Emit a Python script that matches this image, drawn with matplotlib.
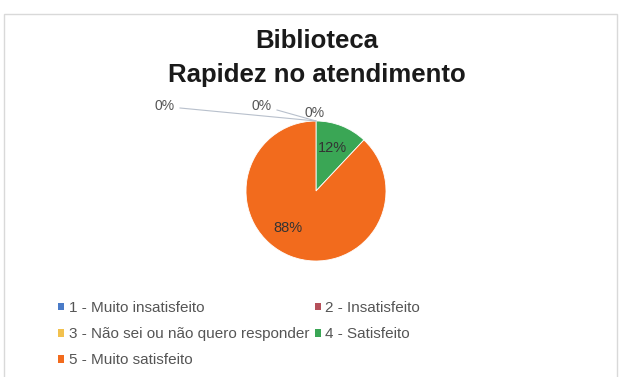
import matplotlib.pyplot as plt
from matplotlib.patches import Patch, Rectangle

plt.rcParams['font.family'] = ['Liberation Sans', 'DejaVu Sans']

categories = ["1 - Muito insatisfeito", "2 - Insatisfeito",
              "3 - Não sei ou não quero responder", "4 - Satisfeito",
              "5 - Muito satisfeito"]
values = [0, 0, 0, 12, 88]
colors = ["#4a7bc8", "#b5505a", "#f2c14e", "#3aa655", "#f26b1d"]

W, H = 620, 377
fig = plt.figure(figsize=(W / 100, H / 100), dpi=100)


def fx(px):
    return px / W


def fy(py):
    return 1 - py / H


# chart frame
fig.patches.append(Rectangle((fx(4), fy(385)), fx(613), 371 / H, transform=fig.transFigure,
                             fill=False, edgecolor="#d9d9d9", lw=1.0))

fig.text(fx(317), fy(48), "Biblioteca", ha="center", va="baseline",
         fontsize=18.5, fontweight="bold", color="#1a1a1a")
fig.text(fx(317), fy(82), "Rapidez no atendimento", ha="center", va="baseline",
         fontsize=18.5, fontweight="bold", color="#1a1a1a")

# pie: center ~(316,191) px, radius ~70 px
r = 70
ax = fig.add_axes([fx(316 - r), fy(191 + r), 2 * r / W, 2 * r / H])
wedges, _ = ax.pie(values, colors=colors, startangle=90, counterclock=False,
                   wedgeprops=dict(linewidth=0.6, edgecolor="white"))
ax.set_aspect("equal")
ax.set_xlim(-1, 1)
ax.set_ylim(-1, 1)

# data labels for non-zero slices
inner = {3: (0.24, 0.61), 4: (-0.40, -0.53)}
for i, (x, y) in inner.items():
    ax.text(x, y, f"{values[i]}%", ha="center", va="center", fontsize=10.5, color="#333333")

# zero-value labels with leader lines
zero_pos = [(165, 106), (262, 106), (315, 113)]
for (px, py), v in zip(zero_pos, values[:3]):
    fig.text(fx(px), fy(py), f"{v}%", ha="center", va="center",
             fontsize=10, color="#555555")
tip = (fx(316), fy(121))
fig.add_artist(plt.Line2D([fx(180), tip[0]], [fy(108), tip[1]], color="#b8c0cc", lw=0.8))
fig.add_artist(plt.Line2D([fx(277), tip[0]], [fy(110), tip[1]], color="#b8c0cc", lw=0.8))

handles = [Patch(facecolor=c, edgecolor="none") for c in colors]
order = [0, 2, 4, 1, 3]
fig.legend([handles[i] for i in order], [categories[i] for i in order],
           loc="upper left", bbox_to_anchor=(fx(58), fy(301)), ncol=2, frameon=False,
           fontsize=11, handlelength=0.4, handleheight=0.4, handletextpad=0.3,
           columnspacing=0.35, labelspacing=0.8, labelcolor="#555555",
           borderaxespad=0, borderpad=0)

fig.savefig("out.png", dpi=100)
